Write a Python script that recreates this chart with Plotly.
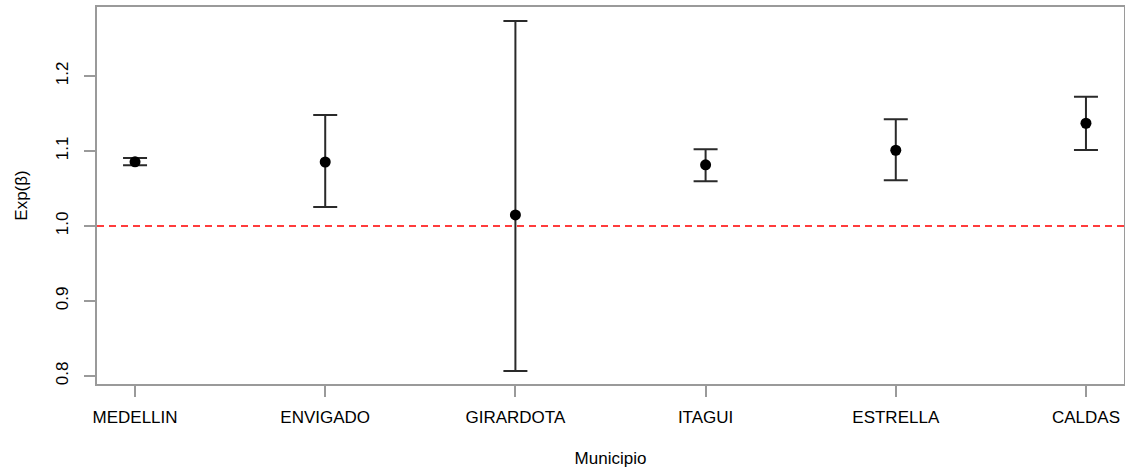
import plotly.graph_objects as go

municipios = ["MEDELLIN", "ENVIGADO", "GIRARDOTA", "ITAGUI", "ESTRELLA", "CALDAS"]
estimate = [1.0855, 1.0853, 1.0147, 1.0815, 1.1010, 1.1370]
lower = [1.0810, 1.0253, 0.8067, 1.0597, 1.0610, 1.1013]
upper = [1.0905, 1.1480, 1.2733, 1.1023, 1.1423, 1.1723]
ref_value = 1.0
y_ticks = [0.8, 0.9, 1.0, 1.1, 1.2]

x_idx = list(range(len(municipios)))
err_plus = [u - e for u, e in zip(upper, estimate)]
err_minus = [e - l for e, l in zip(estimate, lower)]

FONT = "Liberation Sans, Arial, sans-serif"
AXIS_COL = "#9a9a9a"

fig = go.Figure()
fig.add_trace(go.Scatter(
    x=x_idx, y=estimate, mode="markers",
    marker=dict(color="black", size=11),
    error_y=dict(type="data", symmetric=False, array=err_plus, arrayminus=err_minus,
                 color="#2a2a2a", thickness=2, width=12),
    showlegend=False,
))

fig.add_shape(type="line", xref="paper", x0=0, x1=1, yref="y", y0=ref_value, y1=ref_value,
              line=dict(color="rgb(255,60,60)", width=2, dash="7px,5px"))

fig.update_layout(
    width=1125, height=468,
    margin=dict(l=97, r=1, t=7, b=84, autoexpand=False),
    plot_bgcolor="white", paper_bgcolor="white",
    font=dict(family=FONT, size=17, color="black"),
    xaxis=dict(
        range=[-0.2, 5.2], tickmode="array", tickvals=x_idx, ticktext=municipios,
        showline=True, linecolor=AXIS_COL, linewidth=1.5, mirror=True,
        ticks="outside", ticklen=11, tickcolor=AXIS_COL, tickwidth=1.5,
        showgrid=False, zeroline=False, ticklabelstandoff=6, automargin=False,
        title=dict(text="Municipio", standoff=26, font=dict(size=17)),
    ),
    yaxis=dict(
        range=[0.7893, 1.292], tickmode="array", tickvals=y_ticks,
        ticktext=["0.8", "0.9", "1.0", "1.1", "1.2"], tickangle=-90,
        showline=True, linecolor=AXIS_COL, linewidth=1.5, mirror=True,
        ticks="outside", ticklen=11, tickcolor=AXIS_COL, tickwidth=1.5,
        showgrid=False, zeroline=False, ticklabelstandoff=9, automargin=False,
        title=dict(text="Exp(β)", standoff=22, font=dict(size=17)),
    ),
)

fig.write_html("out.html", config={"displayModeBar": False},
               post_script="document.body.style.margin='0';document.body.style.overflow='hidden';")
